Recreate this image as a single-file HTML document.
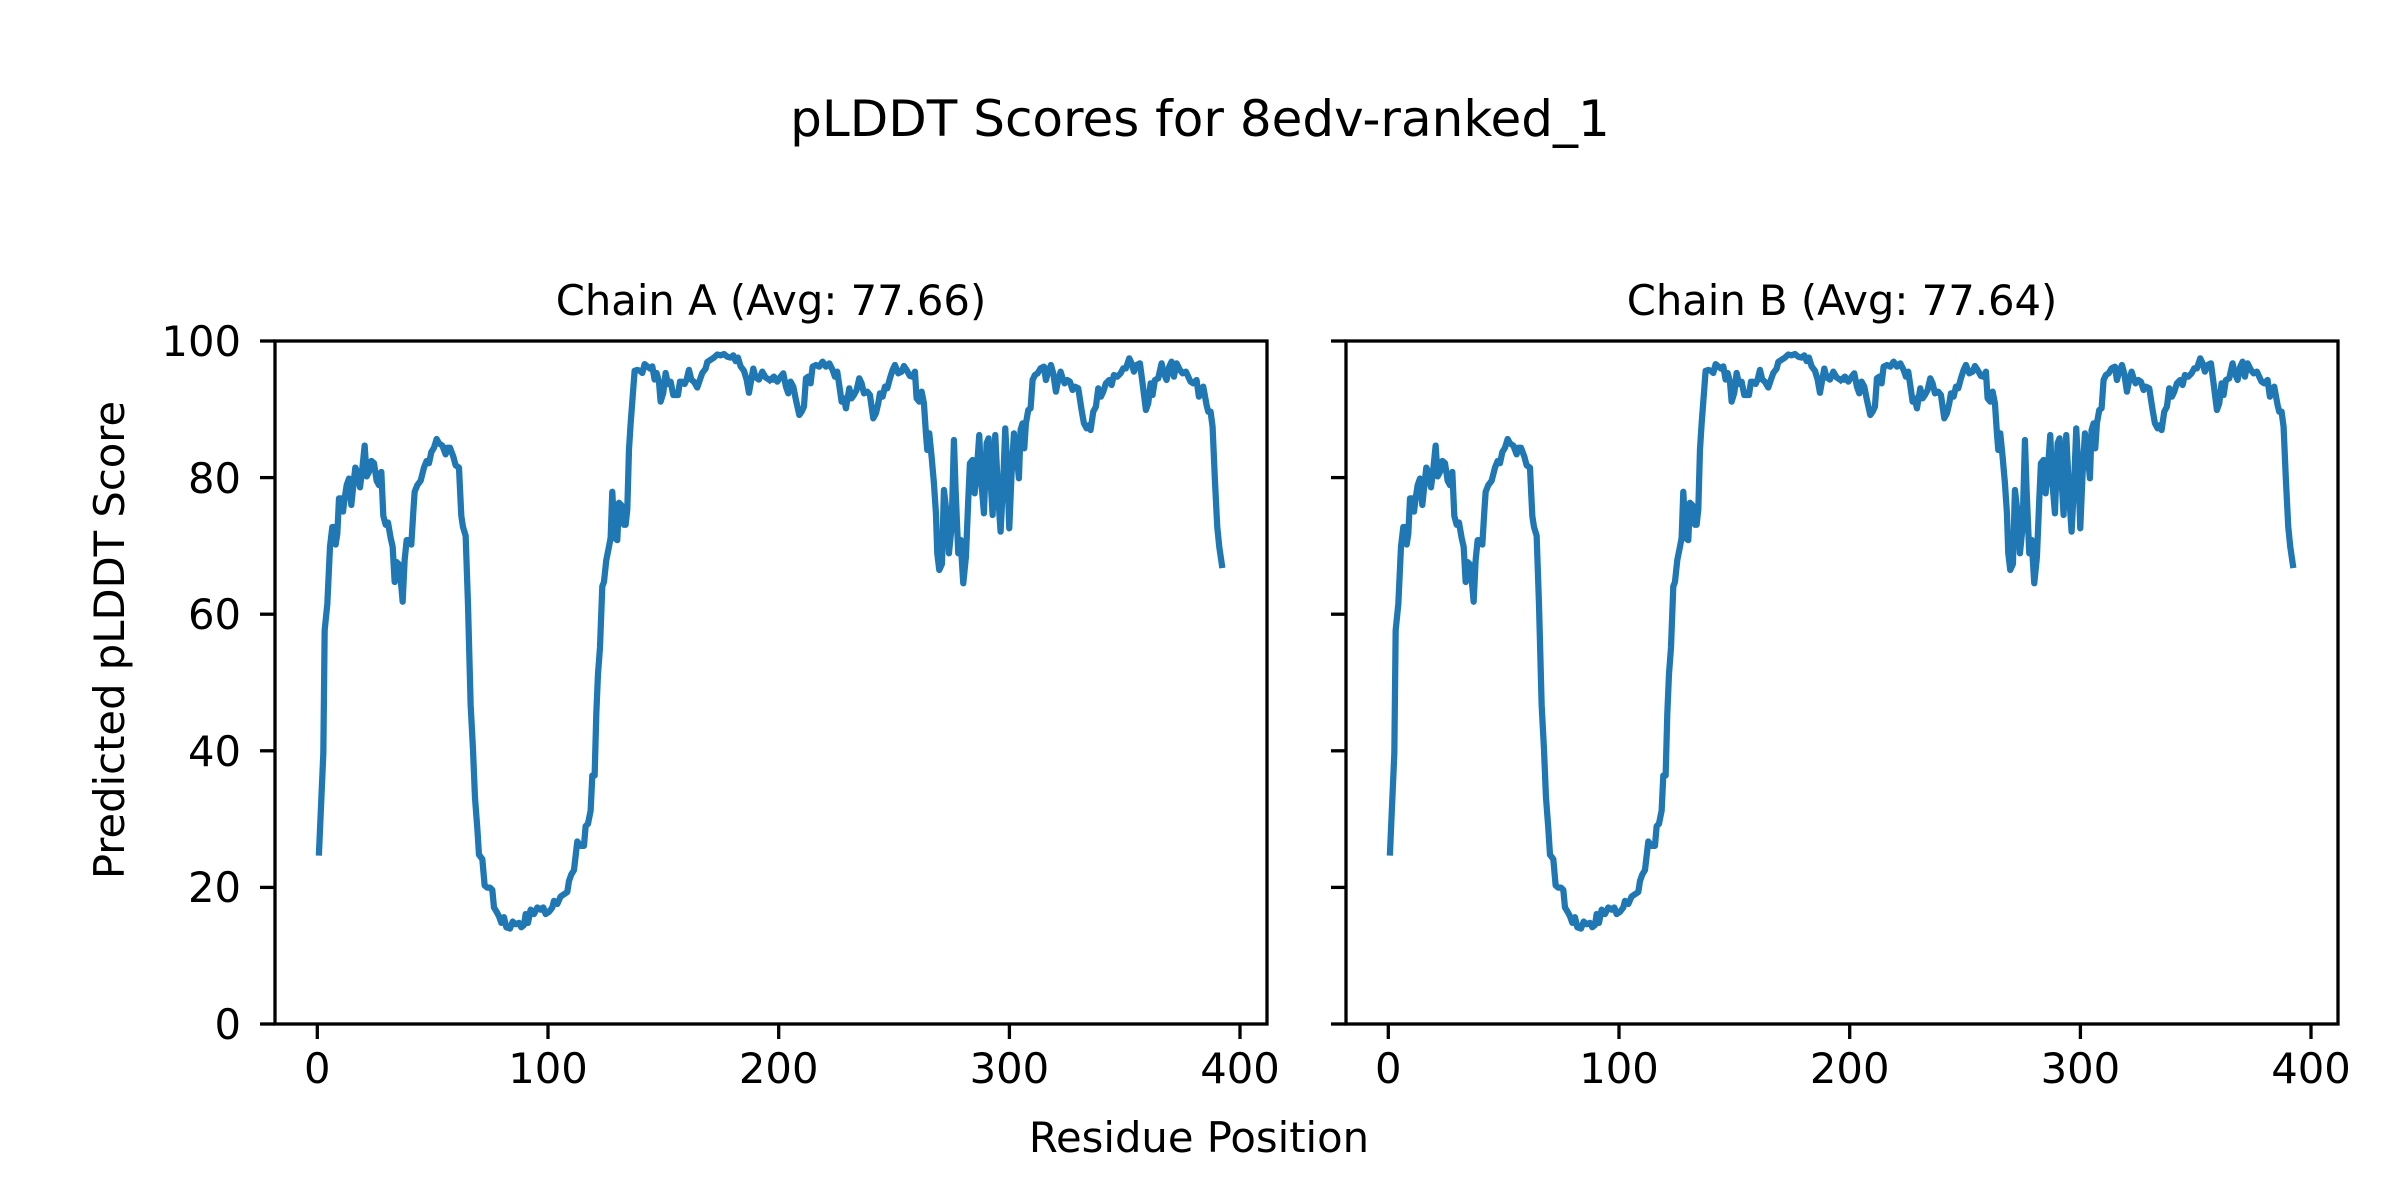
<!DOCTYPE html>
<html><head><meta charset="utf-8"><style>html,body{margin:0;padding:0;background:#fff}svg{display:block}</style></head>
<body>
<svg width="2400" height="1200" viewBox="0 0 2400 1200" xmlns="http://www.w3.org/2000/svg" font-family="DejaVu Sans, Liberation Sans, sans-serif">
<rect width="2400" height="1200" fill="#fff"/>
<defs>
<g id="curve" fill="none" stroke="#1f77b4" stroke-width="6.25" stroke-linejoin="round" stroke-linecap="square">
<polyline vector-effect="non-scaling-stroke" transform="translate(274,340) scale(0.3333,0.4399)" points="135,1165 148,940 152,660 160,600 168,470 175,425 180,425 185,465 190,440 195,360 200,360 207,390 212,360 218,330 225,315 232,375 238,330 244,290 250,300 258,335 264,300 272,240 278,310 285,300 292,275 300,280 308,320 315,330 322,300 328,400 335,420 342,415 350,450 356,470 362,550 368,505 375,510 382,560 386,595 392,500 398,455 405,455 412,465 418,390 422,345 430,330 440,320 450,290 458,275 465,280 472,255 480,245 488,225 495,235 505,240 515,260 520,245 528,245 538,265 545,285 555,290 562,400 567,425 575,445 582,600 590,830 597,930 603,1040 610,1110 615,1170 625,1180 632,1240 640,1245 648,1245 655,1250 660,1290 668,1300 675,1310 682,1325 690,1312 697,1335 708,1338 716,1322 725,1328 735,1325 742,1335 750,1330 755,1305 762,1325 770,1295 780,1305 790,1290 800,1295 808,1290 815,1305 825,1300 835,1290 840,1275 850,1282 860,1265 870,1260 880,1255 885,1230 892,1215 900,1205 910,1140 920,1150 930,1150 935,1105 942,1100 950,1070 955,990 962,990 967,850 972,760 978,700 985,560 990,550 997,500 1005,470 1010,450 1015,345 1022,450 1030,455 1035,370 1042,375 1050,420 1055,420 1060,385 1065,250 1070,190 1075,140 1082,70 1090,68 1098,70 1105,75 1112,55 1120,60 1128,65 1135,60 1142,90 1148,75 1155,95 1160,140 1168,120 1175,75 1182,100 1190,95 1198,125 1205,125 1212,125 1218,95 1225,95 1232,100 1238,90 1245,68 1252,90 1260,95 1270,108 1278,90 1285,75 1295,65 1300,50 1310,45 1320,40 1330,33 1340,35 1350,32 1360,38 1370,40 1378,35 1385,48 1392,40 1400,60 1410,70 1418,90 1425,120 1432,90 1438,65 1445,85 1455,90 1465,72 1475,85 1485,90 1500,90"/>
<polyline vector-effect="non-scaling-stroke" transform="translate(270,340) scale(0.3333)" points="1500,120 1512,110 1522,125 1532,110 1540,100 1548,140 1555,160 1562,125 1570,140 1578,180 1588,225 1595,215 1602,200 1608,115 1615,110 1622,130 1628,80 1638,75 1648,80 1658,65 1668,80 1678,70 1688,90 1695,110 1702,95 1710,150 1715,185 1722,175 1728,205 1738,145 1745,175 1752,165 1760,150 1768,115 1775,130 1782,160 1792,155 1800,165 1810,235 1818,220 1825,190 1830,160 1838,170 1845,140 1852,145 1860,115 1868,90 1875,75 1885,100 1895,95 1902,78 1910,90 1920,108 1928,110 1935,95 1940,175 1948,185 1955,155 1962,190 1968,280 1972,330 1978,280 1985,350 1992,430 1998,520 2002,640 2008,690 2016,672 2022,450 2030,520 2037,640 2045,560 2052,300 2057,450 2065,640 2072,600 2080,730 2088,650 2095,480 2100,370 2108,360 2114,460 2120,400 2128,285 2133,410 2142,520 2150,310 2156,295 2162,420 2168,525 2176,285 2185,470 2192,575 2200,420 2206,265 2212,380 2218,565 2225,400 2232,280 2240,340 2247,415 2252,270 2258,250 2263,325 2268,250 2275,210 2282,205 2288,120 2295,105 2303,100 2312,85 2322,80 2328,120 2335,95 2343,75 2350,100 2358,155 2365,120 2372,95 2378,115 2384,130 2392,120 2400,125 2408,150 2415,140 2425,145 2435,210 2442,250 2450,265 2458,255 2462,270 2470,215 2478,200 2485,145 2493,170 2500,155 2508,130 2518,120 2525,135 2532,105 2542,110 2552,100 2560,85 2568,85 2578,55 2585,70 2592,95 2600,75 2610,70 2618,130 2628,210 2635,190 2642,130 2648,165 2655,120 2665,115 2675,70 2682,100 2690,120 2698,80 2705,65 2712,110 2720,70 2730,90 2738,100 2748,95 2755,110 2762,125 2770,130 2780,120 2787,170 2793,160 2800,140 2810,195 2815,215 2822,215 2828,260 2835,420 2842,560 2848,620 2856,675"/>
</g>
<g id="xaxis" stroke="#000" stroke-width="3.3">
<line x1="317.3" y1="1024" x2="317.3" y2="1039"/>
<line x1="548" y1="1024" x2="548" y2="1039"/>
<line x1="778.7" y1="1024" x2="778.7" y2="1039"/>
<line x1="1009.4" y1="1024" x2="1009.4" y2="1039"/>
<line x1="1240" y1="1024" x2="1240" y2="1039"/>
<line x1="260" y1="1024" x2="275" y2="1024"/>
<line x1="260" y1="887.4" x2="275" y2="887.4"/>
<line x1="260" y1="750.8" x2="275" y2="750.8"/>
<line x1="260" y1="614.2" x2="275" y2="614.2"/>
<line x1="260" y1="477.6" x2="275" y2="477.6"/>
<line x1="260" y1="341" x2="275" y2="341"/>
</g>
<g id="xlabels" font-size="41.7" text-anchor="middle" fill="#000">
<text x="317.3" y="1083">0</text>
<text x="548" y="1083">100</text>
<text x="778.7" y="1083">200</text>
<text x="1009.4" y="1083">300</text>
<text x="1240" y="1083">400</text>
</g>
</defs>
<use href="#curve"/>
<use href="#xaxis"/>
<use href="#xlabels"/>
<rect x="275" y="341" width="992" height="683" fill="none" stroke="#000" stroke-width="3.3"/>
<g font-size="41.7" text-anchor="end" fill="#000">
<text x="241" y="1039">0</text>
<text x="241" y="902">20</text>
<text x="241" y="766">40</text>
<text x="241" y="629">60</text>
<text x="241" y="493">80</text>
<text x="241" y="356">100</text>
</g>
<text x="771" y="315" font-size="41.7" text-anchor="middle">Chain A (Avg: 77.66)</text>
<g transform="translate(1071,0)">
<use href="#curve"/>
<use href="#xaxis"/>
<use href="#xlabels"/>
<rect x="275" y="341" width="992" height="683" fill="none" stroke="#000" stroke-width="3.3"/>
<text x="771" y="315" font-size="41.7" text-anchor="middle">Chain B (Avg: 77.64)</text>
</g>
<text x="1200" y="136" font-size="50" text-anchor="middle">pLDDT Scores for 8edv-ranked_1</text>
<text x="1199" y="1152" font-size="41.7" text-anchor="middle">Residue Position</text>
<text transform="translate(124,640) rotate(-90)" font-size="41.7" text-anchor="middle">Predicted pLDDT Score</text>
</svg>
</body></html>
